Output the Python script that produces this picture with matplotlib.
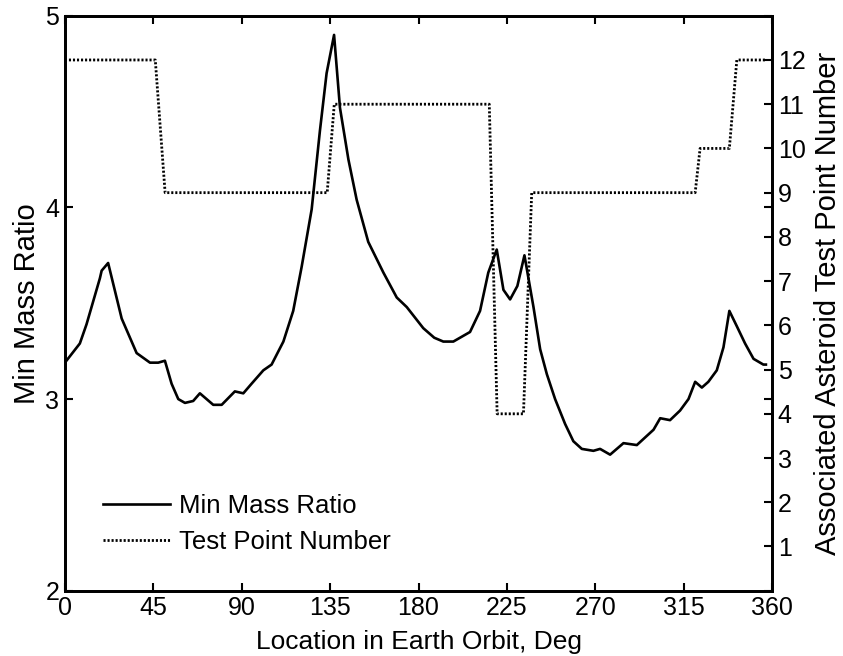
import matplotlib
matplotlib.use("Agg")
import matplotlib.pyplot as plt

plt.rcParams["font.family"] = ["Liberation Sans", "DejaVu Sans"]

# 最小质量比曲线 (左轴)
deg = [0, 7.6, 11, 17.8, 18.7, 22, 28.9, 36.5, 43.3, 47.5, 50.9, 54.3, 57.7, 61.1, 65.3,
       68.7, 75.5, 79.8, 86.5, 90.8, 95, 101, 105.2, 111.2, 116.2, 120.5, 125.6, 129.8,
       133.2, 137, 140, 144.3, 148.5, 154.4, 162.1, 168.9, 174, 182.4, 188, 192.6,
       197.7, 206.2, 211.3, 215.5, 219.8, 223.2, 226.6, 230.3, 233.9, 238.5, 241.9,
       245.3, 249.5, 254.6, 258.8, 263.1, 269, 272.4, 277.5, 284.3, 291.1, 299.6,
       303, 308, 313.1, 317.4, 320.8, 324.2, 327.5, 331.8, 335.2, 338.2, 342,
       346.2, 350.5, 355.5, 356.8]
ratio = [3.19, 3.29, 3.39, 3.63, 3.67, 3.71, 3.42, 3.24, 3.19, 3.19, 3.20, 3.08, 3.00, 2.98,
         2.99, 3.03, 2.97, 2.97, 3.04, 3.03, 3.08, 3.15, 3.18, 3.30, 3.46, 3.69, 3.99, 4.40,
         4.70, 4.90, 4.52, 4.25, 4.04, 3.82, 3.66, 3.53, 3.48, 3.37, 3.32, 3.30,
         3.30, 3.35, 3.46, 3.66, 3.78, 3.57, 3.52, 3.59, 3.75, 3.48, 3.26,
         3.13, 3.00, 2.87, 2.78, 2.74, 2.73, 2.74, 2.71, 2.77, 2.76, 2.84,
         2.90, 2.89, 2.94, 3.00, 3.09, 3.06, 3.09, 3.15, 3.27, 3.46, 3.38,
         3.29, 3.21, 3.18, 3.18]

# 对应测试点编号 (右轴)
tp_deg = [0, 46, 51, 133.5, 137.1, 216, 220, 233.4, 237.6, 320.8, 323.3, 338.2, 342, 356.8]
tp_num = [12, 12, 9, 9, 11, 11, 4, 4, 9, 9, 10, 10, 12, 12]

fig = plt.figure(figsize=(8.43, 6.56), dpi=100)
ax = fig.add_axes([0.077, 0.0995, 0.839, 0.8765])
ax2 = ax.twinx()

l1, = ax.plot(deg, ratio, color="black", lw=1.9, label="Min Mass Ratio")
l2, = ax2.plot(tp_deg, tp_num, color="black", lw=2.0, linestyle=(0, (0.75, 0.7)),
               label="Test Point Number")

ax.set_xlim(0, 360)
ax.set_ylim(2, 5)
ax.set_xticks(range(0, 361, 45))
ax.set_yticks([2, 3, 4, 5])
ax2.set_ylim(0, 13)
ax2.set_yticks(range(1, 13))

ax.tick_params(direction="in", length=6, width=1.5, labelsize=18, top=True, right=True,
               pad=4)
ax2.tick_params(direction="in", length=6, width=1.5, labelsize=18, pad=4)
for a in (ax, ax2):
    for s in a.spines.values():
        s.set_linewidth(2)

ax.set_xlabel("Location in Earth Orbit, Deg", fontsize=19, labelpad=7)
ax.set_ylabel("Min Mass Ratio", fontsize=21, labelpad=3)
ax2.set_ylabel("Associated Asteroid Test Point Number", fontsize=21, labelpad=6)

ax.legend(handles=[l1, l2], loc="lower left", bbox_to_anchor=(0.021, 0.023),
          frameon=False, fontsize=18.5, handlelength=2.6, handletextpad=0.35,
          labelspacing=0.5)

fig.savefig("out.png", dpi=100)
